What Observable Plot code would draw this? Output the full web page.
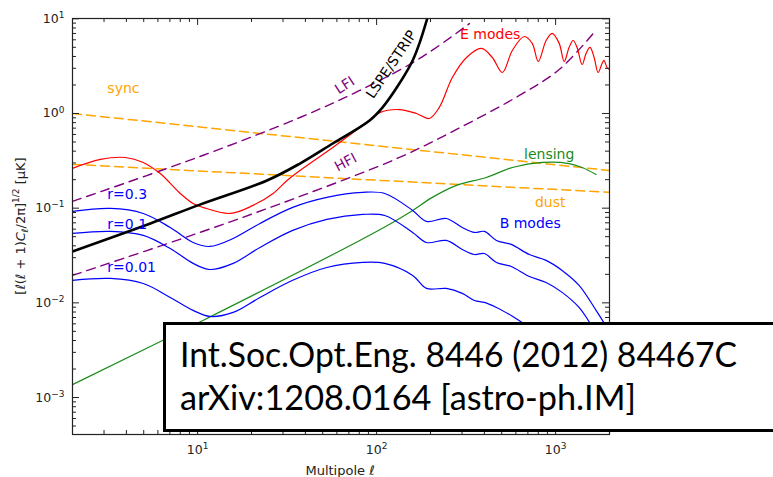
<!DOCTYPE html>
<html><head><meta charset="utf-8">
<script src="https://cdn.jsdelivr.net/npm/d3@7"></script>
<script src="https://cdn.jsdelivr.net/npm/@observablehq/plot@0.6"></script>
<style>
body{margin:0;background:#fff;}
#wrap{position:relative;width:773px;height:477px;overflow:hidden;}
</style>
</head><body><div id="wrap"></div>
<script>
// ---- data (multipole ℓ, amplitude in μK) ----
const syncEll = [2, 2000];
const syncVal = [1.0, 0.25];
const dustEll = [2, 2000];
const dustVal = [0.29, 0.147];
const lfiEll = [2, 10.3, 37.3, 80.5, 174, 330];
const lfiVal = [0.118, 0.351, 0.907, 1.75, 3.81, 8.9];
const hfiEll = [2, 10.3, 37.3, 134, 301, 627, 1047, 1641];
const hfiVal = [0.0195, 0.0554, 0.133, 0.343, 0.729, 1.55, 2.91, 7.17];
const lspeEll = [2, 5.45, 10.3, 24.4, 37.3, 56.9, 91.4, 108, 134, 159, 174, 192, 213];
const lspeVal = [0.0349, 0.069, 0.109, 0.196, 0.296, 0.482, 0.843, 1.16, 2.07, 3.63, 5.6, 10.1, 19];
const eEll = [2, 2.86, 3.95, 4.97, 6.18, 8.0, 9.44, 10.7, 15.2, 20.4, 26.4, 31.6, 37.3, 56.9, 87.9, 104, 134, 167, 197, 224, 265, 318, 385, 443, 504, 573, 668, 740, 800, 885, 957, 1047, 1117, 1189, 1253, 1318, 1406, 1479, 1557, 1641, 1727, 1817, 1864, 1937, 2000];
const eVal = [0.263, 0.327, 0.343, 0.304, 0.232, 0.143, 0.112, 0.102, 0.0879, 0.107, 0.143, 0.196, 0.250, 0.438, 0.804, 1.02, 1.10, 1.0, 0.885, 1.16, 2.40, 3.90, 4.86, 3.90, 2.71, 4.63, 6.5, 5.5, 3.54, 5.9, 7.0, 5.5, 3.54, 4.98, 5.9, 4.98, 3.29, 4.30, 4.98, 3.90, 2.71, 3.37, 3.63, 3.06, 2.9];
const lensEll = [2, 10.7, 80.5, 123, 159, 205, 279, 410, 573, 842, 1189, 1406, 1683];
const lensVal = [0.00137, 0.00652, 0.0456, 0.0706, 0.0946, 0.130, 0.174, 0.211, 0.269, 0.304, 0.296, 0.269, 0.227];
const b03Ell = [2, 3.26, 4.97, 7.03, 9.44, 11.7, 15.8, 22.3, 34.0, 52.7, 83.6, 111, 159, 190, 245, 301, 352, 400, 467, 565, 713, 885, 1087, 1352, 1683, 1914, 2000];
const b03Val = [0.0923, 0.0993, 0.0879, 0.0625, 0.0434, 0.0394, 0.0479, 0.0690, 0.102, 0.130, 0.147, 0.143, 0.0946, 0.0724, 0.0778, 0.0625, 0.0554, 0.0568, 0.0456, 0.0414, 0.0324, 0.0281, 0.0220, 0.0153, 0.00832, 0.00563, 0.0048];
const b01Ell = [2, 3.26, 4.97, 7.03, 9.44, 11.7, 15.8, 22.3, 34.0, 52.7, 83.6, 111, 159, 190, 245, 301, 352, 400, 467, 565, 713, 885, 1087, 1352, 1683, 2000];
const b01Val = [0.0541, 0.0568, 0.0515, 0.0375, 0.0261, 0.0225, 0.0261, 0.0385, 0.0582, 0.0760, 0.0858, 0.0837, 0.0554, 0.0434, 0.0456, 0.0366, 0.0324, 0.0332, 0.0267, 0.0242, 0.0190, 0.0164, 0.0129, 0.00894, 0.00487, 0.00314];
const b001Ell = [2, 3.26, 4.97, 7.03, 9.44, 11.7, 15.8, 22.3, 34.0, 52.7, 83.6, 111, 159, 190, 245, 301, 352, 400, 467, 565, 713, 885, 1352, 2000];
const b001Val = [0.0173, 0.0181, 0.0160, 0.0114, 0.00832, 0.00718, 0.00792, 0.0114, 0.0173, 0.0236, 0.0267, 0.0261, 0.0195, 0.0142, 0.0142, 0.0126, 0.0106, 0.0101, 0.00894, 0.00736, 0.00563, 0.00512, 0.00279, 0.00093];

// annotation texts and anchor values
const labelText = ["sync", "E modes", "LFI", "LSPE/STRIP", "HFI", "lensing", "dust", "B modes", "r=0.3", "r=0.1", "r=0.01"];
const labelEll  = [3.85, 431, 66.4, 121, 67.2, 921, 933, 721, 3.13, 3.13, 3.13];
const labelVal  = [1.84, 6.83, 1.98, 3.29, 0.304, 0.369, 0.115, 0.0689, 0.140, 0.0673, 0.0236];

// citation box text
const citeLines = ["Int.Soc.Opt.Eng. 8446 (2012) 84467C", "arXiv:1208.0164 [astro-ph.IM]"];

// axis ticks
const xMajor = [10, 100, 1000];
const yMajor = [1e-3, 1e-2, 1e-1, 1, 10];
const xTickLabels = ["10^1", "10^2", "10^3"];
const yTickLabels = ["10^−3", "10^−2", "10^−1", "10^0", "10^1"];
const xMinor = [], yMinor = [];
for (const d of [1, 10, 100, 1000]) for (let k = 2; k <= 9; k++) { const v = k * d; if (v >= 2 && v <= 2000) xMinor.push(v); }
for (const d of [1e-4, 1e-3, 1e-2, 1e-1, 1]) for (let k = 2; k <= 9; k++) { const v = k * d; if (v >= 4.1e-4 && v <= 10) yMinor.push(v); }

// ---- build ----
const rows = (ell, val) => ell.map((l, i) => ({l, v: val[i]}));
const labels = labelText.map((t, i) => ({t, l: labelEll[i], v: labelVal[i]}));
const labelStyle = {
  "sync": {fill: "orange", rotate: 0, anchor: "middle"},
  "E modes": {fill: "red", rotate: 0, anchor: "middle"},
  "LFI": {fill: "purple", rotate: -33, anchor: "middle"},
  "LSPE/STRIP": {fill: "black", rotate: -56, anchor: "middle"},
  "HFI": {fill: "purple", rotate: -28, anchor: "middle"},
  "lensing": {fill: "#1a8c1a", rotate: 0, anchor: "middle"},
  "dust": {fill: "orange", rotate: 0, anchor: "middle"},
  "B modes": {fill: "blue", rotate: 0, anchor: "middle"},
  "r=0.3": {fill: "blue", rotate: 0, anchor: "start"},
  "r=0.1": {fill: "blue", rotate: 0, anchor: "start"},
  "r=0.01": {fill: "blue", rotate: 0, anchor: "start"}
};

const W = 773, H = 477, mL = 72, mR = 164, mT = 18, mB = 43;
const innerW = W - mL - mR, innerH = H - mT - mB;
const tickCol = "#222";
const fmtX = d => xTickLabels[xMajor.indexOf(d)];
const fmtY = d => yTickLabels[yMajor.findIndex(v => Math.abs(Math.log10(v) - Math.log10(d)) < 1e-6)];

const dash = {strokeDasharray: "9,5", strokeWidth: 1.5};
const marks = [
  Plot.line(rows(syncEll, syncVal), {x: "l", y: "v", stroke: "orange", ...dash}),
  Plot.line(rows(dustEll, dustVal), {x: "l", y: "v", stroke: "orange", ...dash}),
  Plot.line(rows(lfiEll, lfiVal), {x: "l", y: "v", stroke: "purple", curve: "catmull-rom", strokeDasharray: "9,6", strokeWidth: 1.4}),
  Plot.line(rows(hfiEll, hfiVal), {x: "l", y: "v", stroke: "purple", curve: "catmull-rom", strokeDasharray: "9,6", strokeWidth: 1.4}),
  Plot.line(rows(lensEll, lensVal), {x: "l", y: "v", stroke: "#1a8c1a", curve: "catmull-rom", strokeWidth: 1.2}),
  Plot.line(rows(b03Ell, b03Val), {x: "l", y: "v", stroke: "blue", curve: "catmull-rom", strokeWidth: 1.2, clip: true}),
  Plot.line(rows(b01Ell, b01Val), {x: "l", y: "v", stroke: "blue", curve: "catmull-rom", strokeWidth: 1.2, clip: true}),
  Plot.line(rows(b001Ell, b001Val), {x: "l", y: "v", stroke: "blue", curve: "catmull-rom", strokeWidth: 1.2, clip: true}),
  Plot.line(rows(eEll, eVal), {x: "l", y: "v", stroke: "red", curve: "catmull-rom", strokeWidth: 1.2, clip: true}),
  Plot.line(rows(lspeEll, lspeVal), {x: "l", y: "v", stroke: "black", curve: "catmull-rom", strokeWidth: 2.6, clip: true}),
  ...Object.entries(labelStyle).map(([name, s]) =>
    Plot.text(labels.filter(d => d.t === name), {x: "l", y: "v", text: "t", fill: s.fill, rotate: s.rotate, textAnchor: s.anchor, fontSize: 14})),
  Plot.frame({stroke: tickCol, strokeWidth: 1.2}),
  // inward ticks on all four sides
  Plot.tickX(xMajor, {x: d => d, insetTop: innerH - 7, stroke: tickCol}),
  Plot.tickX(xMajor, {x: d => d, insetBottom: innerH - 7, stroke: tickCol}),
  Plot.tickX(xMinor, {x: d => d, insetTop: innerH - 4, stroke: tickCol}),
  Plot.tickX(xMinor, {x: d => d, insetBottom: innerH - 4, stroke: tickCol}),
  Plot.tickY(yMajor, {y: d => d, insetRight: innerW - 7, stroke: tickCol}),
  Plot.tickY(yMajor, {y: d => d, insetLeft: innerW - 7, stroke: tickCol}),
  Plot.tickY(yMinor, {y: d => d, insetRight: innerW - 4, stroke: tickCol}),
  Plot.tickY(yMinor, {y: d => d, insetLeft: innerW - 4, stroke: tickCol}),
  Plot.axisX({ticks: xMajor, tickFormat: fmtX, tickSize: 0, tickPadding: 11, label: null, fontSize: 12.5}),
  Plot.axisY({ticks: yMajor, tickFormat: fmtY, tickSize: 0, tickPadding: 8, label: null, fontSize: 12.5})
];

const svg = Plot.plot({
  width: W, height: H,
  marginLeft: mL, marginRight: mR, marginTop: mT, marginBottom: mB,
  x: {type: "log", domain: [2, 2000]},
  y: {type: "log", domain: [4.07e-4, 10.07]},
  style: {fontFamily: "DejaVu Sans", color: "#222", background: "#fff", overflow: "visible"},
  marks
});
document.getElementById("wrap").appendChild(svg);

// superscript tick labels
const S = d3.select(svg);
S.selectAll('g[aria-label="x-axis tick label"] text, g[aria-label="y-axis tick label"] text').each(function () {
  const t = this.textContent;
  if (!t.includes("^")) return;
  const [b, e] = t.split("^");
  this.textContent = b;
  d3.select(this).append("tspan").attr("dy", "-0.55em").attr("font-size", "0.72em").text(e);
});

// axis titles
const yl = S.append("text").attr("transform", "translate(25,226) rotate(-90)")
  .attr("text-anchor", "middle").attr("font-size", 13).attr("fill", "#222").attr("font-family", "DejaVu Sans");
const seg = (txt, o = {}) => { const ts = yl.append("tspan").text(txt); for (const k in o) ts.attr(k, o[k]); };
seg("[");
seg("ℓ", {"font-style": "italic"});
seg("(");
seg("ℓ", {"font-style": "italic"});
seg(" + 1)");
seg("C", {"font-style": "italic"});
seg("ℓ", {"font-style": "italic", "font-size": 9, dy: 3});
seg("/2π]", {dy: -3});
seg("1/2", {"font-size": 9, dy: -6});
seg(" [μK]", {dy: 6});

S.append("text").attr("x", 340).attr("y", 475).attr("text-anchor", "middle")
  .attr("font-size", 13).attr("fill", "#222").attr("font-family", "DejaVu Sans")
  .text("Multipole ℓ");

// reference box overlay
const box = S.append("g").attr("text-anchor", "start");
box.append("rect").attr("x", 164.5).attr("y", 323.5).attr("width", 640).attr("height", 107)
  .attr("fill", "#fff").attr("stroke", "#000").attr("stroke-width", 3);
box.append("text").attr("x", 180).attr("y", 367).attr("text-anchor", "start").attr("font-family", "Lato").attr("font-size", 35).attr("fill", "#000")
  .attr("textLength", 557).attr("lengthAdjust", "spacingAndGlyphs")
  .text(citeLines[0]);
box.append("text").attr("x", 180).attr("y", 410).attr("text-anchor", "start").attr("font-family", "Lato").attr("font-size", 35).attr("fill", "#000")
  .attr("textLength", 456).attr("lengthAdjust", "spacingAndGlyphs")
  .text(citeLines[1]);
</script>
</body></html>
